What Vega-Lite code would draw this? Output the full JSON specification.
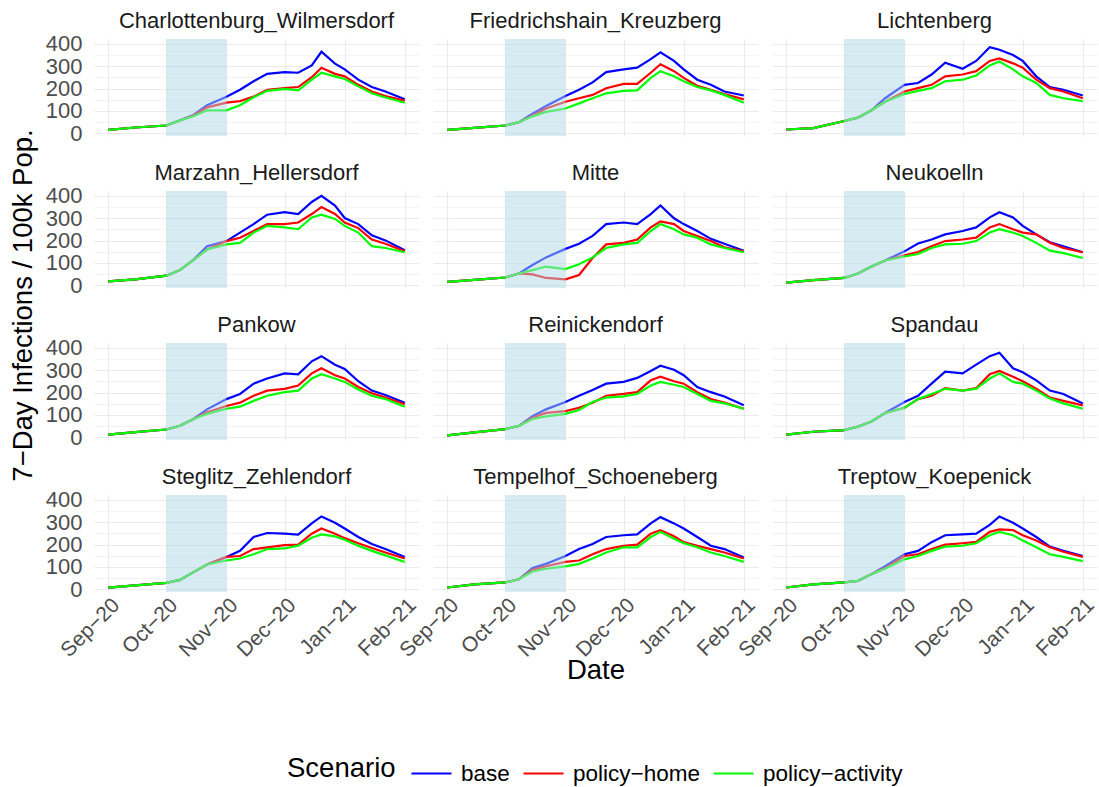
{
"$schema": "https://vega.github.io/schema/vega-lite/v6.json",
"background": "white",
"padding": {"left": 9, "top": 10, "right": 0, "bottom": 5},
"config": {"font": "Liberation Sans", "view": {"stroke": null}},
"title": {"text": "7−Day Infections / 100k Pop.", "orient": "left", "anchor": "middle", "fontSize": 27.5, "fontWeight": "normal", "color": "#000000", "font": "Liberation Sans", "offset": 8, "dx": 92},
"datasets": {"main": [
{"d":"Charlottenburg_Wilmersdorf","t":"2020-09-01","b":15,"h":15,"p":15},
{"d":"Charlottenburg_Wilmersdorf","t":"2020-09-15","b":26,"h":26,"p":26},
{"d":"Charlottenburg_Wilmersdorf","t":"2020-10-01","b":35,"h":35,"p":35},
{"d":"Charlottenburg_Wilmersdorf","t":"2020-10-08","b":58,"h":58,"p":58},
{"d":"Charlottenburg_Wilmersdorf","t":"2020-10-15","b":82,"h":80,"p":76},
{"d":"Charlottenburg_Wilmersdorf","t":"2020-10-22","b":126,"h":116,"p":103},
{"d":"Charlottenburg_Wilmersdorf","t":"2020-11-01","b":164,"h":137,"p":103},
{"d":"Charlottenburg_Wilmersdorf","t":"2020-11-08","b":195,"h":144,"p":126},
{"d":"Charlottenburg_Wilmersdorf","t":"2020-11-15","b":233,"h":164,"p":161},
{"d":"Charlottenburg_Wilmersdorf","t":"2020-11-22","b":266,"h":195,"p":190},
{"d":"Charlottenburg_Wilmersdorf","t":"2020-12-01","b":274,"h":202,"p":199},
{"d":"Charlottenburg_Wilmersdorf","t":"2020-12-08","b":271,"h":207,"p":192},
{"d":"Charlottenburg_Wilmersdorf","t":"2020-12-15","b":304,"h":251,"p":240},
{"d":"Charlottenburg_Wilmersdorf","t":"2020-12-20","b":365,"h":293,"p":271},
{"d":"Charlottenburg_Wilmersdorf","t":"2020-12-27","b":312,"h":266,"p":255},
{"d":"Charlottenburg_Wilmersdorf","t":"2021-01-01","b":286,"h":255,"p":243},
{"d":"Charlottenburg_Wilmersdorf","t":"2021-01-08","b":240,"h":217,"p":210},
{"d":"Charlottenburg_Wilmersdorf","t":"2021-01-15","b":207,"h":187,"p":179},
{"d":"Charlottenburg_Wilmersdorf","t":"2021-01-22","b":187,"h":167,"p":160},
{"d":"Charlottenburg_Wilmersdorf","t":"2021-02-01","b":152,"h":146,"p":137},
{"d":"Friedrichshain_Kreuzberg","t":"2020-09-01","b":15,"h":15,"p":15},
{"d":"Friedrichshain_Kreuzberg","t":"2020-09-15","b":24,"h":24,"p":24},
{"d":"Friedrichshain_Kreuzberg","t":"2020-10-01","b":35,"h":35,"p":35},
{"d":"Friedrichshain_Kreuzberg","t":"2020-10-08","b":50,"h":50,"p":50},
{"d":"Friedrichshain_Kreuzberg","t":"2020-10-15","b":88,"h":80,"p":76},
{"d":"Friedrichshain_Kreuzberg","t":"2020-10-22","b":122,"h":111,"p":96},
{"d":"Friedrichshain_Kreuzberg","t":"2020-11-01","b":167,"h":141,"p":111},
{"d":"Friedrichshain_Kreuzberg","t":"2020-11-08","b":195,"h":157,"p":134},
{"d":"Friedrichshain_Kreuzberg","t":"2020-11-15","b":228,"h":172,"p":157},
{"d":"Friedrichshain_Kreuzberg","t":"2020-11-22","b":274,"h":202,"p":179},
{"d":"Friedrichshain_Kreuzberg","t":"2020-12-01","b":286,"h":221,"p":190},
{"d":"Friedrichshain_Kreuzberg","t":"2020-12-08","b":294,"h":221,"p":192},
{"d":"Friedrichshain_Kreuzberg","t":"2020-12-15","b":332,"h":271,"p":248},
{"d":"Friedrichshain_Kreuzberg","t":"2020-12-20","b":362,"h":309,"p":278},
{"d":"Friedrichshain_Kreuzberg","t":"2020-12-27","b":324,"h":278,"p":255},
{"d":"Friedrichshain_Kreuzberg","t":"2021-01-01","b":286,"h":248,"p":233},
{"d":"Friedrichshain_Kreuzberg","t":"2021-01-08","b":240,"h":213,"p":207},
{"d":"Friedrichshain_Kreuzberg","t":"2021-01-15","b":217,"h":195,"p":192},
{"d":"Friedrichshain_Kreuzberg","t":"2021-01-22","b":187,"h":176,"p":172},
{"d":"Friedrichshain_Kreuzberg","t":"2021-02-01","b":169,"h":152,"p":137},
{"d":"Lichtenberg","t":"2020-09-01","b":17,"h":17,"p":17},
{"d":"Lichtenberg","t":"2020-09-15","b":23,"h":23,"p":23},
{"d":"Lichtenberg","t":"2020-10-01","b":55,"h":55,"p":55},
{"d":"Lichtenberg","t":"2020-10-08","b":70,"h":70,"p":70},
{"d":"Lichtenberg","t":"2020-10-15","b":103,"h":103,"p":103},
{"d":"Lichtenberg","t":"2020-10-22","b":157,"h":141,"p":141},
{"d":"Lichtenberg","t":"2020-11-01","b":217,"h":187,"p":176},
{"d":"Lichtenberg","t":"2020-11-08","b":225,"h":202,"p":190},
{"d":"Lichtenberg","t":"2020-11-15","b":263,"h":217,"p":202},
{"d":"Lichtenberg","t":"2020-11-22","b":316,"h":255,"p":233},
{"d":"Lichtenberg","t":"2020-12-01","b":289,"h":263,"p":240},
{"d":"Lichtenberg","t":"2020-12-08","b":324,"h":278,"p":259},
{"d":"Lichtenberg","t":"2020-12-15","b":385,"h":324,"p":304},
{"d":"Lichtenberg","t":"2020-12-20","b":374,"h":335,"p":321},
{"d":"Lichtenberg","t":"2020-12-27","b":350,"h":313,"p":286},
{"d":"Lichtenberg","t":"2021-01-01","b":324,"h":294,"p":255},
{"d":"Lichtenberg","t":"2021-01-08","b":255,"h":240,"p":225},
{"d":"Lichtenberg","t":"2021-01-15","b":207,"h":202,"p":172},
{"d":"Lichtenberg","t":"2021-01-22","b":195,"h":187,"p":157},
{"d":"Lichtenberg","t":"2021-02-01","b":169,"h":157,"p":144},
{"d":"Marzahn_Hellersdorf","t":"2020-09-01","b":18,"h":18,"p":18},
{"d":"Marzahn_Hellersdorf","t":"2020-09-15","b":27,"h":27,"p":27},
{"d":"Marzahn_Hellersdorf","t":"2020-10-01","b":43,"h":43,"p":43},
{"d":"Marzahn_Hellersdorf","t":"2020-10-08","b":68,"h":68,"p":68},
{"d":"Marzahn_Hellersdorf","t":"2020-10-15","b":114,"h":114,"p":114},
{"d":"Marzahn_Hellersdorf","t":"2020-10-22","b":175,"h":160,"p":160},
{"d":"Marzahn_Hellersdorf","t":"2020-11-01","b":198,"h":198,"p":183},
{"d":"Marzahn_Hellersdorf","t":"2020-11-08","b":236,"h":213,"p":190},
{"d":"Marzahn_Hellersdorf","t":"2020-11-15","b":274,"h":243,"p":236},
{"d":"Marzahn_Hellersdorf","t":"2020-11-22","b":316,"h":274,"p":266},
{"d":"Marzahn_Hellersdorf","t":"2020-12-01","b":327,"h":274,"p":259},
{"d":"Marzahn_Hellersdorf","t":"2020-12-08","b":319,"h":281,"p":251},
{"d":"Marzahn_Hellersdorf","t":"2020-12-15","b":373,"h":319,"p":304},
{"d":"Marzahn_Hellersdorf","t":"2020-12-20","b":400,"h":350,"p":316},
{"d":"Marzahn_Hellersdorf","t":"2020-12-27","b":357,"h":319,"p":297},
{"d":"Marzahn_Hellersdorf","t":"2021-01-01","b":301,"h":281,"p":266},
{"d":"Marzahn_Hellersdorf","t":"2021-01-08","b":274,"h":256,"p":236},
{"d":"Marzahn_Hellersdorf","t":"2021-01-15","b":224,"h":205,"p":175},
{"d":"Marzahn_Hellersdorf","t":"2021-01-22","b":201,"h":186,"p":167},
{"d":"Marzahn_Hellersdorf","t":"2021-02-01","b":157,"h":152,"p":148},
{"d":"Mitte","t":"2020-09-01","b":15,"h":15,"p":15},
{"d":"Mitte","t":"2020-09-15","b":24,"h":24,"p":24},
{"d":"Mitte","t":"2020-10-01","b":35,"h":35,"p":35},
{"d":"Mitte","t":"2020-10-08","b":53,"h":53,"p":53},
{"d":"Mitte","t":"2020-10-15","b":91,"h":49,"p":68},
{"d":"Mitte","t":"2020-10-22","b":125,"h":33,"p":84},
{"d":"Mitte","t":"2020-11-01","b":163,"h":27,"p":73},
{"d":"Mitte","t":"2020-11-08","b":186,"h":46,"p":94},
{"d":"Mitte","t":"2020-11-15","b":221,"h":122,"p":125},
{"d":"Mitte","t":"2020-11-22","b":274,"h":183,"p":167},
{"d":"Mitte","t":"2020-12-01","b":281,"h":190,"p":183},
{"d":"Mitte","t":"2020-12-08","b":274,"h":205,"p":190},
{"d":"Mitte","t":"2020-12-15","b":319,"h":259,"p":243},
{"d":"Mitte","t":"2020-12-20","b":357,"h":286,"p":274},
{"d":"Mitte","t":"2020-12-27","b":300,"h":274,"p":251},
{"d":"Mitte","t":"2021-01-01","b":274,"h":243,"p":228},
{"d":"Mitte","t":"2021-01-08","b":243,"h":221,"p":213},
{"d":"Mitte","t":"2021-01-15","b":208,"h":198,"p":183},
{"d":"Mitte","t":"2021-01-22","b":186,"h":170,"p":167},
{"d":"Mitte","t":"2021-02-01","b":155,"h":152,"p":148},
{"d":"Neukoelln","t":"2020-09-01","b":12,"h":12,"p":12},
{"d":"Neukoelln","t":"2020-09-15","b":23,"h":23,"p":23},
{"d":"Neukoelln","t":"2020-10-01","b":33,"h":33,"p":33},
{"d":"Neukoelln","t":"2020-10-08","b":53,"h":53,"p":53},
{"d":"Neukoelln","t":"2020-10-15","b":84,"h":84,"p":84},
{"d":"Neukoelln","t":"2020-10-22","b":111,"h":111,"p":111},
{"d":"Neukoelln","t":"2020-11-01","b":152,"h":134,"p":129},
{"d":"Neukoelln","t":"2020-11-08","b":187,"h":149,"p":140},
{"d":"Neukoelln","t":"2020-11-15","b":205,"h":175,"p":167},
{"d":"Neukoelln","t":"2020-11-22","b":228,"h":198,"p":183},
{"d":"Neukoelln","t":"2020-12-01","b":243,"h":205,"p":186},
{"d":"Neukoelln","t":"2020-12-08","b":259,"h":213,"p":198},
{"d":"Neukoelln","t":"2020-12-15","b":304,"h":259,"p":236},
{"d":"Neukoelln","t":"2020-12-20","b":327,"h":274,"p":251},
{"d":"Neukoelln","t":"2020-12-27","b":304,"h":251,"p":236},
{"d":"Neukoelln","t":"2021-01-01","b":266,"h":236,"p":221},
{"d":"Neukoelln","t":"2021-01-08","b":228,"h":228,"p":190},
{"d":"Neukoelln","t":"2021-01-15","b":193,"h":190,"p":155},
{"d":"Neukoelln","t":"2021-01-22","b":175,"h":167,"p":144},
{"d":"Neukoelln","t":"2021-02-01","b":148,"h":148,"p":122},
{"d":"Pankow","t":"2020-09-01","b":12,"h":12,"p":12},
{"d":"Pankow","t":"2020-09-15","b":23,"h":23,"p":23},
{"d":"Pankow","t":"2020-10-01","b":35,"h":35,"p":35},
{"d":"Pankow","t":"2020-10-08","b":52,"h":52,"p":52},
{"d":"Pankow","t":"2020-10-15","b":82,"h":82,"p":82},
{"d":"Pankow","t":"2020-10-22","b":125,"h":112,"p":105},
{"d":"Pankow","t":"2020-11-01","b":171,"h":140,"p":128},
{"d":"Pankow","t":"2020-11-08","b":194,"h":155,"p":137},
{"d":"Pankow","t":"2020-11-15","b":240,"h":186,"p":163},
{"d":"Pankow","t":"2020-11-22","b":263,"h":209,"p":186},
{"d":"Pankow","t":"2020-12-01","b":286,"h":217,"p":202},
{"d":"Pankow","t":"2020-12-08","b":282,"h":232,"p":209},
{"d":"Pankow","t":"2020-12-15","b":340,"h":286,"p":263},
{"d":"Pankow","t":"2020-12-20","b":363,"h":309,"p":282},
{"d":"Pankow","t":"2020-12-27","b":325,"h":278,"p":263},
{"d":"Pankow","t":"2021-01-01","b":306,"h":263,"p":248},
{"d":"Pankow","t":"2021-01-08","b":251,"h":225,"p":214},
{"d":"Pankow","t":"2021-01-15","b":209,"h":197,"p":186},
{"d":"Pankow","t":"2021-01-22","b":189,"h":178,"p":171},
{"d":"Pankow","t":"2021-02-01","b":155,"h":148,"p":137},
{"d":"Reinickendorf","t":"2020-09-01","b":9,"h":9,"p":9},
{"d":"Reinickendorf","t":"2020-09-15","b":22,"h":22,"p":22},
{"d":"Reinickendorf","t":"2020-10-01","b":37,"h":37,"p":37},
{"d":"Reinickendorf","t":"2020-10-08","b":51,"h":51,"p":51},
{"d":"Reinickendorf","t":"2020-10-15","b":94,"h":88,"p":82},
{"d":"Reinickendorf","t":"2020-10-22","b":125,"h":109,"p":94},
{"d":"Reinickendorf","t":"2020-11-01","b":158,"h":117,"p":105},
{"d":"Reinickendorf","t":"2020-11-08","b":186,"h":132,"p":122},
{"d":"Reinickendorf","t":"2020-11-15","b":212,"h":155,"p":158},
{"d":"Reinickendorf","t":"2020-11-22","b":240,"h":186,"p":178},
{"d":"Reinickendorf","t":"2020-12-01","b":248,"h":194,"p":183},
{"d":"Reinickendorf","t":"2020-12-08","b":266,"h":202,"p":194},
{"d":"Reinickendorf","t":"2020-12-15","b":297,"h":255,"p":232},
{"d":"Reinickendorf","t":"2020-12-20","b":320,"h":271,"p":248},
{"d":"Reinickendorf","t":"2020-12-27","b":302,"h":251,"p":235},
{"d":"Reinickendorf","t":"2021-01-01","b":278,"h":240,"p":225},
{"d":"Reinickendorf","t":"2021-01-08","b":225,"h":202,"p":194},
{"d":"Reinickendorf","t":"2021-01-15","b":202,"h":171,"p":163},
{"d":"Reinickendorf","t":"2021-01-22","b":183,"h":155,"p":152},
{"d":"Reinickendorf","t":"2021-02-01","b":143,"h":128,"p":128},
{"d":"Spandau","t":"2020-09-01","b":12,"h":12,"p":12},
{"d":"Spandau","t":"2020-09-15","b":25,"h":25,"p":25},
{"d":"Spandau","t":"2020-10-01","b":32,"h":32,"p":32},
{"d":"Spandau","t":"2020-10-08","b":48,"h":48,"p":48},
{"d":"Spandau","t":"2020-10-15","b":71,"h":71,"p":71},
{"d":"Spandau","t":"2020-10-22","b":109,"h":109,"p":109},
{"d":"Spandau","t":"2020-11-01","b":158,"h":132,"p":132},
{"d":"Spandau","t":"2020-11-08","b":186,"h":171,"p":171},
{"d":"Spandau","t":"2020-11-15","b":240,"h":186,"p":194},
{"d":"Spandau","t":"2020-11-22","b":294,"h":220,"p":217},
{"d":"Spandau","t":"2020-12-01","b":286,"h":209,"p":209},
{"d":"Spandau","t":"2020-12-08","b":325,"h":220,"p":217},
{"d":"Spandau","t":"2020-12-15","b":363,"h":282,"p":263},
{"d":"Spandau","t":"2020-12-20","b":378,"h":297,"p":286},
{"d":"Spandau","t":"2020-12-27","b":309,"h":271,"p":248},
{"d":"Spandau","t":"2021-01-01","b":291,"h":251,"p":240},
{"d":"Spandau","t":"2021-01-08","b":255,"h":217,"p":209},
{"d":"Spandau","t":"2021-01-15","b":209,"h":178,"p":174},
{"d":"Spandau","t":"2021-01-22","b":194,"h":163,"p":152},
{"d":"Spandau","t":"2021-02-01","b":151,"h":143,"p":128},
{"d":"Steglitz_Zehlendorf","t":"2020-09-01","b":8,"h":8,"p":8},
{"d":"Steglitz_Zehlendorf","t":"2020-09-15","b":18,"h":18,"p":18},
{"d":"Steglitz_Zehlendorf","t":"2020-10-01","b":29,"h":29,"p":29},
{"d":"Steglitz_Zehlendorf","t":"2020-10-08","b":42,"h":42,"p":42},
{"d":"Steglitz_Zehlendorf","t":"2020-10-15","b":77,"h":77,"p":77},
{"d":"Steglitz_Zehlendorf","t":"2020-10-22","b":111,"h":111,"p":111},
{"d":"Steglitz_Zehlendorf","t":"2020-11-01","b":145,"h":145,"p":129},
{"d":"Steglitz_Zehlendorf","t":"2020-11-08","b":172,"h":149,"p":138},
{"d":"Steglitz_Zehlendorf","t":"2020-11-15","b":234,"h":180,"p":157},
{"d":"Steglitz_Zehlendorf","t":"2020-11-22","b":252,"h":188,"p":180},
{"d":"Steglitz_Zehlendorf","t":"2020-12-01","b":249,"h":198,"p":183},
{"d":"Steglitz_Zehlendorf","t":"2020-12-08","b":245,"h":200,"p":195},
{"d":"Steglitz_Zehlendorf","t":"2020-12-15","b":295,"h":249,"p":231},
{"d":"Steglitz_Zehlendorf","t":"2020-12-20","b":326,"h":272,"p":246},
{"d":"Steglitz_Zehlendorf","t":"2020-12-27","b":298,"h":249,"p":237},
{"d":"Steglitz_Zehlendorf","t":"2021-01-01","b":272,"h":229,"p":222},
{"d":"Steglitz_Zehlendorf","t":"2021-01-08","b":234,"h":206,"p":195},
{"d":"Steglitz_Zehlendorf","t":"2021-01-15","b":203,"h":185,"p":172},
{"d":"Steglitz_Zehlendorf","t":"2021-01-22","b":180,"h":165,"p":152},
{"d":"Steglitz_Zehlendorf","t":"2021-02-01","b":145,"h":138,"p":122},
{"d":"Tempelhof_Schoeneberg","t":"2020-09-01","b":8,"h":8,"p":8},
{"d":"Tempelhof_Schoeneberg","t":"2020-09-15","b":22,"h":22,"p":22},
{"d":"Tempelhof_Schoeneberg","t":"2020-10-01","b":31,"h":31,"p":31},
{"d":"Tempelhof_Schoeneberg","t":"2020-10-08","b":45,"h":45,"p":45},
{"d":"Tempelhof_Schoeneberg","t":"2020-10-15","b":95,"h":88,"p":80},
{"d":"Tempelhof_Schoeneberg","t":"2020-10-22","b":114,"h":103,"p":92},
{"d":"Tempelhof_Schoeneberg","t":"2020-11-01","b":149,"h":123,"p":103},
{"d":"Tempelhof_Schoeneberg","t":"2020-11-08","b":180,"h":129,"p":114},
{"d":"Tempelhof_Schoeneberg","t":"2020-11-15","b":203,"h":157,"p":138},
{"d":"Tempelhof_Schoeneberg","t":"2020-11-22","b":234,"h":180,"p":165},
{"d":"Tempelhof_Schoeneberg","t":"2020-12-01","b":242,"h":195,"p":188},
{"d":"Tempelhof_Schoeneberg","t":"2020-12-08","b":246,"h":200,"p":188},
{"d":"Tempelhof_Schoeneberg","t":"2020-12-15","b":295,"h":249,"p":234},
{"d":"Tempelhof_Schoeneberg","t":"2020-12-20","b":323,"h":265,"p":257},
{"d":"Tempelhof_Schoeneberg","t":"2020-12-27","b":295,"h":237,"p":226},
{"d":"Tempelhof_Schoeneberg","t":"2021-01-01","b":272,"h":211,"p":206},
{"d":"Tempelhof_Schoeneberg","t":"2021-01-08","b":234,"h":195,"p":188},
{"d":"Tempelhof_Schoeneberg","t":"2021-01-15","b":195,"h":180,"p":165},
{"d":"Tempelhof_Schoeneberg","t":"2021-01-22","b":180,"h":165,"p":149},
{"d":"Tempelhof_Schoeneberg","t":"2021-02-01","b":142,"h":138,"p":123},
{"d":"Treptow_Koepenick","t":"2020-09-01","b":8,"h":8,"p":8},
{"d":"Treptow_Koepenick","t":"2020-09-15","b":22,"h":22,"p":22},
{"d":"Treptow_Koepenick","t":"2020-10-01","b":31,"h":31,"p":31},
{"d":"Treptow_Koepenick","t":"2020-10-08","b":38,"h":38,"p":38},
{"d":"Treptow_Koepenick","t":"2020-10-15","b":68,"h":68,"p":68},
{"d":"Treptow_Koepenick","t":"2020-10-22","b":103,"h":95,"p":92},
{"d":"Treptow_Koepenick","t":"2020-11-01","b":157,"h":149,"p":134},
{"d":"Treptow_Koepenick","t":"2020-11-08","b":172,"h":157,"p":149},
{"d":"Treptow_Koepenick","t":"2020-11-15","b":211,"h":180,"p":172},
{"d":"Treptow_Koepenick","t":"2020-11-22","b":242,"h":200,"p":191},
{"d":"Treptow_Koepenick","t":"2020-12-01","b":246,"h":206,"p":195},
{"d":"Treptow_Koepenick","t":"2020-12-08","b":249,"h":212,"p":206},
{"d":"Treptow_Koepenick","t":"2020-12-15","b":288,"h":257,"p":242},
{"d":"Treptow_Koepenick","t":"2020-12-20","b":326,"h":268,"p":257},
{"d":"Treptow_Koepenick","t":"2020-12-27","b":298,"h":265,"p":242},
{"d":"Treptow_Koepenick","t":"2021-01-01","b":272,"h":242,"p":218},
{"d":"Treptow_Koepenick","t":"2021-01-08","b":234,"h":218,"p":188},
{"d":"Treptow_Koepenick","t":"2021-01-15","b":191,"h":188,"p":157},
{"d":"Treptow_Koepenick","t":"2021-01-22","b":172,"h":168,"p":145},
{"d":"Treptow_Koepenick","t":"2021-02-01","b":149,"h":145,"p":126}
]},
"data": {"name": "main"},
"columns": 3,
"spacing": {"row": 26, "column": 14},
"facet": {"field": "d", "type": "nominal", "header": {"title": "Date", "titleOrient": "bottom", "titleFontSize": 27.5, "titleFontWeight": "normal", "titleColor": "#000000", "titleFont": "Liberation Sans", "titlePadding": -4, "labelOrient": "top", "labelFontSize": 22, "labelColor": "#1A1A1A", "labelPadding": 6, "labelFont": "Liberation Sans"}},
"spec": {
  "width": 325,
  "height": 97,
  "layer": [
    {
      "transform": [{"fold": ["b", "h", "p"], "as": ["s", "v"]}],
      "mark": {"type": "line", "strokeWidth": 2.2},
      "encoding": {
        "x": {"field": "t", "type": "temporal",
          "scale": {"type": "utc", "domain": [{"year": 2020, "month": 8, "date": 24, "hours": 16, "utc": true}, {"year": 2021, "month": 2, "date": 8, "hours": 8, "utc": true}]},
          "axis": {"title": null,
            "values": [{"year": 2020, "month": 9, "date": 1, "utc": true}, {"year": 2020, "month": 9, "date": 16, "utc": true}, {"year": 2020, "month": 10, "date": 1, "utc": true}, {"year": 2020, "month": 10, "date": 16, "hours": 12, "utc": true}, {"year": 2020, "month": 11, "date": 1, "utc": true}, {"year": 2020, "month": 11, "date": 16, "utc": true}, {"year": 2020, "month": 12, "date": 1, "utc": true}, {"year": 2020, "month": 12, "date": 16, "hours": 12, "utc": true}, {"year": 2021, "month": 1, "date": 1, "utc": true}, {"year": 2021, "month": 1, "date": 16, "hours": 12, "utc": true}, {"year": 2021, "month": 2, "date": 1, "utc": true}],
            "labelExpr": "utcdate(datum.value) == 1 ? utcFormat(datum.value, '%b−%y') : ''",
            "labelAngle": -45, "labelAlign": "right", "labelBaseline": "top", "labelFontSize": 21, "labelColor": "#4D4D4D", "labelPadding": 2, "labelOverlap": false,
            "ticks": false, "domain": false, "gridColor": "#EBEBEB",
            "gridWidth": {"condition": {"test": "utcdate(datum.value) == 1", "value": 1.1}, "value": 0.55}}},
        "y": {"field": "v", "type": "quantitative",
          "scale": {"domain": [-12, 422], "nice": false, "zero": false},
          "axis": {"title": null,
            "values": [0, 50, 100, 150, 200, 250, 300, 350, 400],
            "labelExpr": "datum.value % 100 == 0 ? datum.label : ''",
            "labelFontSize": 22, "labelColor": "#4D4D4D", "labelPadding": 12, "ticks": false, "domain": false, "gridColor": "#EBEBEB",
            "gridWidth": {"condition": {"test": "datum.value % 100 == 0", "value": 1.1}, "value": 0.55}}},
        "color": {"field": "s", "type": "nominal",
          "scale": {"domain": ["b", "h", "p"], "range": ["#0000FF", "#FF0000", "#00FF00"]},
          "legend": {"title": "Scenario", "orient": "none", "legendX": 193, "legendY": 713, "direction": "horizontal", "titleOrient": "left", "titleFontSize": 27.5, "titleFontWeight": "normal", "titleColor": "#000000", "titleAnchor": "middle", "titleBaseline": "middle", "titlePadding": 14,
            "labelFontSize": 22.5, "labelColor": "#000000", "symbolType": "stroke", "symbolSize": 1600, "symbolStrokeWidth": 2.2, "columnPadding": 9, "labelOffset": 8,
            "labelExpr": "datum.label == 'b' ? 'base' : datum.label == 'h' ? 'policy−home' : 'policy−activity'"}}
      }
    },
    {
      "transform": [{"aggregate": [{"op": "count", "as": "n"}], "groupby": ["d"]}],
      "mark": {"type": "rect", "color": "#ADD8E6", "opacity": 0.5},
      "encoding": {
        "x": {"datum": {"year": 2020, "month": 10, "date": 1, "utc": true}, "type": "temporal"},
        "x2": {"datum": {"year": 2020, "month": 11, "date": 1, "utc": true}}
      }
    }
  ]
}
}
